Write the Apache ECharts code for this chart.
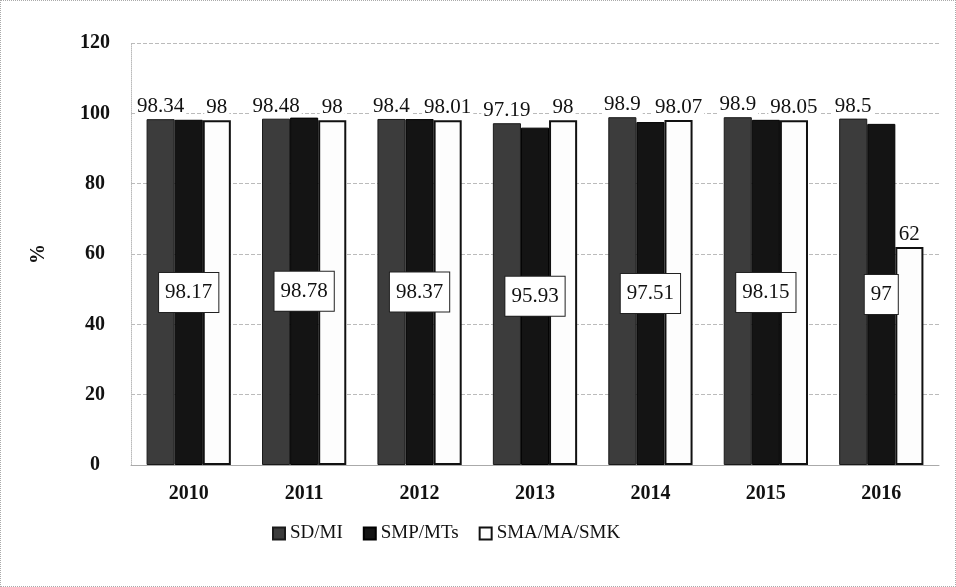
<!DOCTYPE html>
<html>
<head>
<meta charset="utf-8">
<script src="https://cdn.jsdelivr.net/npm/echarts@6/dist/echarts.min.js"></script>
<style>
  html, body { margin: 0; padding: 0; background: #fff; }
  #chart { width: 956px; height: 587px; box-sizing: border-box; border: 1px dotted #aaa; }
</style>
</head>
<body>
<div id="chart"></div>
<script>
// School participation rates by level, 2010-2016 (%)
const years = ['2010', '2011', '2012', '2013', '2014', '2015', '2016'];
const sdMi = [98.34, 98.48, 98.4, 97.19, 98.9, 98.9, 98.5];
const smpMts = [98.17, 98.78, 98.37, 95.93, 97.51, 98.15, 97];
const smaMaSmk = [98, 98, 98.01, 98, 98.07, 98.05, 62];
const seriesNames = ['SD/MI', 'SMP/MTs', 'SMA/MA/SMK'];

const FONT = '"Liberation Serif", "DejaVu Serif", serif';

const labelBox = {
  fontFamily: FONT,
  fontSize: 21,
  color: '#111',
  backgroundColor: '#fff',
  padding: [2, 2, 0, 2]
};

const chart = echarts.init(document.getElementById('chart'));
chart.setOption({
  animation: false,
  backgroundColor: '#fff',
  textStyle: { fontFamily: FONT },
  grid: { left: 130, right: 16, top: 42, bottom: 121 },
  legend: {
    top: 518,
    left: 266,
    icon: 'rect',
    itemWidth: 12,
    itemHeight: 12,
    itemGap: 20,
    itemTextGap: 4,
    textStyle: { fontFamily: FONT, fontSize: 19, color: '#111' },
    data: seriesNames
  },
  xAxis: {
    type: 'category',
    data: years,
    axisLine: { show: true, lineStyle: { color: '#aaa' } },
    axisTick: { show: false },
    axisLabel: { fontFamily: FONT, fontSize: 20, fontWeight: 'bold', color: '#111', margin: 19 }
  },
  yAxis: {
    type: 'value',
    min: 0,
    max: 120,
    interval: 20,
    name: '%',
    nameLocation: 'middle',
    nameGap: 82,
    nameRotate: 90,
    nameTextStyle: { fontFamily: FONT, fontSize: 20, fontWeight: 'bold', color: '#111' },
    axisLine: { show: true, lineStyle: { color: '#bbb', type: 'dotted' } },
    axisTick: { show: false },
    axisLabel: {
      fontFamily: FONT, fontSize: 20, fontWeight: 'bold', color: '#111',
      margin: 36, align: 'center'
    },
    splitLine: { show: true, lineStyle: { color: '#bbb', type: 'dashed', width: 1 } }
  },
  series: [
    {
      name: seriesNames[0],
      type: 'bar',
      data: sdMi,
      barGap: '0%',
      barCategoryGap: '27%',
      itemStyle: { color: '#3c3c3c', borderColor: '#1a1a1a', borderWidth: 1 },
      label: { show: true, position: 'top', distance: 2, ...labelBox }
    },
    {
      name: seriesNames[1],
      type: 'bar',
      data: smpMts,
      itemStyle: { color: '#141414', borderColor: '#000', borderWidth: 1 },
      label: {
        show: true, position: 'inside', ...labelBox,
        borderColor: '#222', borderWidth: 1, padding: [10, 6, 8, 6]
      }
    },
    {
      name: seriesNames[2],
      type: 'bar',
      data: smaMaSmk,
      itemStyle: { color: '#fdfdfd', borderColor: '#111', borderWidth: 2 },
      label: { show: true, position: 'top', distance: 2, ...labelBox }
    }
  ]
});
</script>
</body>
</html>
